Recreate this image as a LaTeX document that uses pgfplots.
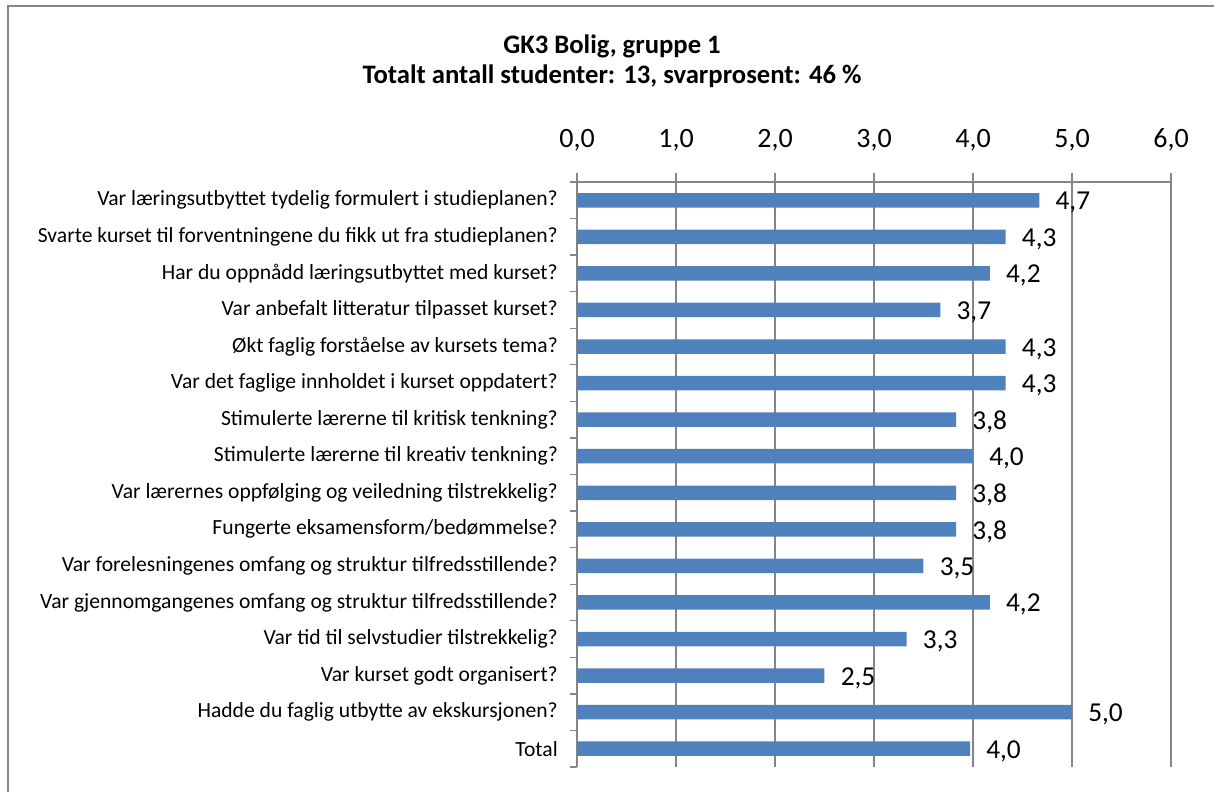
\documentclass[border=0pt]{standalone}
\usepackage{pgfplots}
\pgfplotsset{compat=1.18}
\usepackage{fontspec}
\setmainfont{Carlito}
\definecolor{barblue}{HTML}{4F81BD}
\definecolor{gridgray}{HTML}{868686}
\begin{document}
\begin{tikzpicture}
\useasboundingbox (0,0) rectangle (910.5pt,594pt);
\draw[gridgray, line width=1.5pt] (6pt,0) -- (6pt,589.5pt) -- (910.5pt,589.5pt);
\node[font=\fontsize{20}{24}\selectfont\bfseries] at (459pt,559.5pt) {GK3 Bolig, gruppe 1};
\node[font=\fontsize{20}{24}\selectfont\bfseries] at (459pt,537pt) {Totalt antall studenter: 13, svarprosent: 46 \%};
\begin{axis}[
  at={(432.75pt,18.75pt)}, anchor=south west,
  scale only axis, width=445.5pt, height=438.75pt,
  xmin=0, xmax=6, ymin=-0.5, ymax=15.5,
  xbar, bar width=10.9pt,
  axis x line*=top, axis y line*=left,
  axis line style={gridgray, line width=1pt, -},
  xtick={0,1,...,6},
  xtick pos=upper, xticklabel pos=upper,
  ytick pos=left,
  tick align=outside,
  major tick length=6.75pt,
  minor tick length=5pt,
  major x tick style={gridgray, line width=1pt},
  major y tick style={draw=none},
  minor y tick style={gridgray, line width=1pt},
  xmajorgrids, grid style={gridgray, line width=1pt},
  ytick={0,1,...,15},
  minor ytick={-0.5,0.5,...,15.5},
  yticklabels={Total,
    Hadde du faglig utbytte av ekskursjonen?,
    Var kurset godt organisert?,
    Var tid til selvstudier tilstrekkelig?,
    Var gjennomgangenes omfang og struktur tilfredsstillende?,
    Var forelesningenes omfang og struktur tilfredsstillende?,
    Fungerte eksamensform/bedømmelse?,
    Var lærernes oppfølging og veiledning tilstrekkelig?,
    Stimulerte lærerne til kreativ tenkning?,
    Stimulerte lærerne til kritisk tenkning?,
    Var det faglige innholdet i kurset oppdatert?,
    Økt faglig forståelse av kursets tema?,
    Var anbefalt litteratur tilpasset kurset?,
    Har du oppnådd læringsutbyttet med kurset?,
    Svarte kurset til forventningene du fikk ut fra studieplanen?,
    Var læringsutbyttet tydelig formulert i studieplanen?},
  yticklabel style={font=\fontsize{16.2}{19}\selectfont, anchor=east, inner sep=0pt, xshift=-7.5pt},
  xticklabel style={font=\fontsize{21}{25}\selectfont, anchor=base, inner sep=0pt, yshift=19pt},
  /pgf/number format/.cd, fixed, fixed zerofill, precision=1, use comma, assume math mode=true,
  /pgfplots/.cd,
  nodes near coords={\pgfmathprintnumber[fixed,fixed zerofill,precision=1,use comma,assume math mode=true]{\pgfplotspointmeta}},
  nodes near coords style={font=\fontsize{20.5}{24}\selectfont, anchor=west, inner sep=0pt, xshift=12pt, yshift=-1.8pt, text=black},
  clip=false,
]
\addplot[fill=barblue, draw=none] coordinates {
(3.97,0) (5.0,1) (2.5,2) (3.33,3) (4.17,4) (3.5,5) (3.83,6) (3.83,7)
(4.0,8) (3.83,9) (4.33,10) (4.33,11) (3.67,12) (4.17,13) (4.33,14) (4.67,15)
};
\end{axis}
\end{tikzpicture}
\end{document}
